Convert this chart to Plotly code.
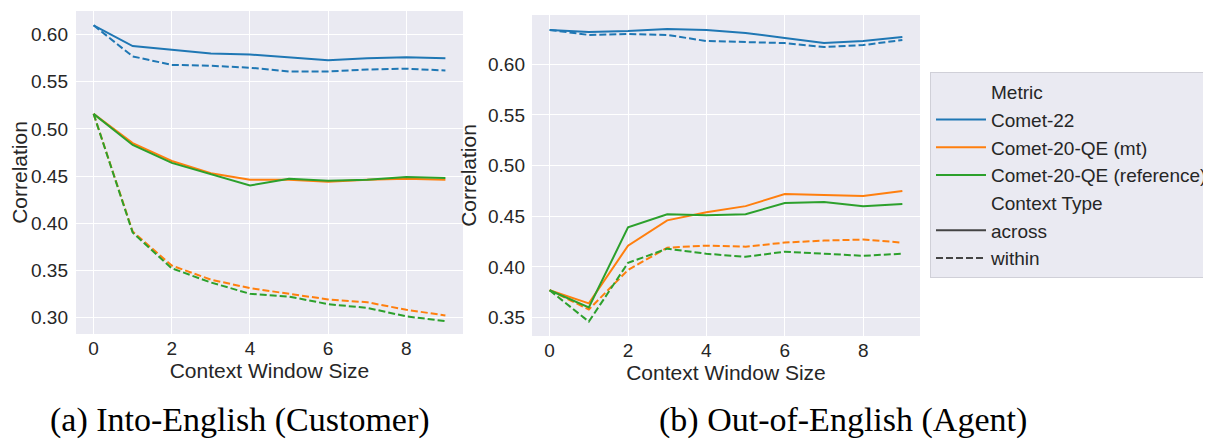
import plotly.graph_objects as go

window = list(range(10))

# (a) Into-English (Customer)
a_comet22_across = [0.610, 0.588, 0.584, 0.580, 0.579, 0.576, 0.573, 0.575, 0.576, 0.575]
a_comet22_within = [0.610, 0.577, 0.568, 0.567, 0.565, 0.561, 0.561, 0.563, 0.564, 0.562]
a_qe_mt_across = [0.516, 0.485, 0.466, 0.453, 0.446, 0.446, 0.444, 0.446, 0.447, 0.446]
a_qe_ref_across = [0.516, 0.483, 0.464, 0.452, 0.440, 0.447, 0.445, 0.446, 0.449, 0.448]
a_qe_mt_within = [0.516, 0.391, 0.355, 0.340, 0.331, 0.325, 0.319, 0.316, 0.308, 0.302]
a_qe_ref_within = [0.516, 0.390, 0.352, 0.337, 0.325, 0.322, 0.314, 0.310, 0.301, 0.296]

# (b) Out-of-English (Agent)
b_comet22_across = [0.634, 0.632, 0.633, 0.635, 0.634, 0.631, 0.626, 0.621, 0.623, 0.627]
b_comet22_within = [0.634, 0.629, 0.630, 0.629, 0.623, 0.622, 0.621, 0.617, 0.619, 0.624]
b_qe_mt_across = [0.377, 0.364, 0.421, 0.446, 0.454, 0.460, 0.472, 0.471, 0.470, 0.475]
b_qe_ref_across = [0.377, 0.360, 0.439, 0.452, 0.451, 0.452, 0.463, 0.464, 0.460, 0.462]
b_qe_mt_within = [0.377, 0.358, 0.397, 0.419, 0.421, 0.420, 0.424, 0.426, 0.427, 0.424]
b_qe_ref_within = [0.377, 0.346, 0.404, 0.418, 0.413, 0.410, 0.415, 0.413, 0.411, 0.413]

metrics = ["Comet-22", "Comet-20-QE (mt)", "Comet-20-QE (reference)"]
colors = ["#1f77b4", "#ff7f0e", "#2ca02c"]
context_types = ["across", "within"]

a_series = {
    ("Comet-22", "across"): a_comet22_across,
    ("Comet-22", "within"): a_comet22_within,
    ("Comet-20-QE (mt)", "across"): a_qe_mt_across,
    ("Comet-20-QE (mt)", "within"): a_qe_mt_within,
    ("Comet-20-QE (reference)", "across"): a_qe_ref_across,
    ("Comet-20-QE (reference)", "within"): a_qe_ref_within,
}
b_series = {
    ("Comet-22", "across"): b_comet22_across,
    ("Comet-22", "within"): b_comet22_within,
    ("Comet-20-QE (mt)", "across"): b_qe_mt_across,
    ("Comet-20-QE (mt)", "within"): b_qe_mt_within,
    ("Comet-20-QE (reference)", "across"): b_qe_ref_across,
    ("Comet-20-QE (reference)", "within"): b_qe_ref_within,
}

dash_map = {"across": "solid", "within": "7px,3px"}
TXT = "#262626"
BG = "#EAEAF2"
FONT = "Liberation Sans, Arial, sans-serif"
SERIF = "Liberation Serif, Times New Roman, serif"

fig = go.Figure()

for series, xa, ya in [(a_series, "x", "y"), (b_series, "x2", "y2")]:
    for m, c in zip(metrics, colors):
        for ct in context_types:
            fig.add_trace(go.Scatter(
                x=window, y=series[(m, ct)], mode="lines",
                line=dict(color=c, width=2, dash=dash_map[ct]),
                xaxis=xa, yaxis=ya, showlegend=False,
            ))

# legend entries (seaborn style)
def leg(name, color, dash="solid"):
    fig.add_trace(go.Scatter(
        x=[None], y=[None], mode="lines", name=name,
        line=dict(color=color, width=2, dash=dash), showlegend=True,
    ))

leg("Metric", "rgba(0,0,0,0)")
for m, c in zip(metrics, colors):
    leg(m, c)
leg("Context Type", "rgba(0,0,0,0)")
leg("across", "#444444")
leg("within", "#444444", "7px,3px")

# the page body adds an 8px offset; figure is sized to the visible area
OFF = 8
W, H = 1211 - OFF, 441 - OFF

def px_x(p):
    return (p - OFF) / W

def px_y(p):
    return 1 - (p - OFF) / H

axis_common = dict(
    showgrid=True, gridcolor="white", gridwidth=1, zeroline=False,
    showline=False, ticks="", automargin=False,
    tickfont=dict(family=FONT, size=19, color=TXT),
)

fig.update_layout(
    template="none",
    width=W, height=H,
    margin=dict(l=0, r=0, t=0, b=0, pad=0, autoexpand=False),
    paper_bgcolor="white", plot_bgcolor=BG,
    font=dict(family=FONT, color=TXT),
    xaxis=dict(domain=[px_x(76), px_x(463)], range=[-0.45, 9.45], dtick=2, tick0=0,
               anchor="y", ticklabelstandoff=1,
               title=dict(text="Context Window Size", font=dict(size=21, color=TXT), standoff=0),
               **axis_common),
    yaxis=dict(domain=[px_y(334), px_y(11)], range=[0.2823, 0.6252], dtick=0.05, tick0=0.30,
               tickformat=".2f", anchor="x", ticklabelstandoff=7,
               title=dict(text="Correlation", font=dict(size=21, color=TXT), standoff=5),
               **axis_common),
    xaxis2=dict(domain=[px_x(532), px_x(920)], range=[-0.45, 9.45], dtick=2, tick0=0,
                anchor="y2", ticklabelstandoff=1,
                title=dict(text="Context Window Size", font=dict(size=21, color=TXT), standoff=0),
                **axis_common),
    yaxis2=dict(domain=[px_y(336), px_y(15)], range=[0.3318, 0.6487], dtick=0.05, tick0=0.35,
                tickformat=".2f", anchor="x2", ticklabelstandoff=6,
                title=dict(text="Correlation", font=dict(size=21, color=TXT), standoff=5),
                **axis_common),
    legend=dict(
        x=px_x(930), y=px_y(72), xanchor="left", yanchor="top",
        bgcolor=BG, bordercolor="#d0d0d8", borderwidth=1,
        font=dict(family=FONT, size=19, color=TXT),
        itemwidth=50, tracegroupgap=0,
    ),
    annotations=[
        dict(text="(a) Into-English (Customer)", x=px_x(240), y=px_y(420),
             xref="paper", yref="paper", showarrow=False, xanchor="center", yanchor="middle",
             font=dict(family=SERIF, size=34, color="black")),
        dict(text="(b) Out-of-English (Agent)", x=px_x(843), y=px_y(420),
             xref="paper", yref="paper", showarrow=False, xanchor="center", yanchor="middle",
             font=dict(family=SERIF, size=34, color="black")),
    ],
)

fig.write_html("out.html")
